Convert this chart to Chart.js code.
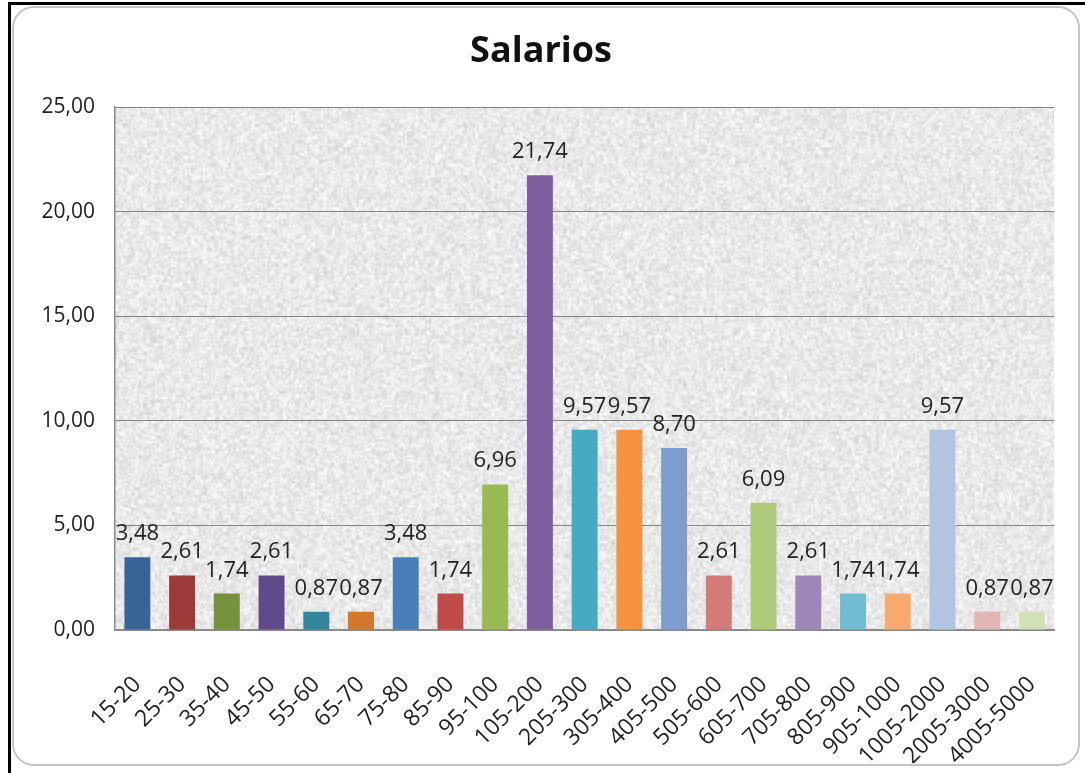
<!DOCTYPE html>
<html>
<head>
<meta charset="utf-8">
<script src="https://cdn.jsdelivr.net/npm/chart.js@4.4.0/dist/chart.umd.min.js"></script>
<style>
  html, body { margin: 0; padding: 0; background: #fff; }
  #wrap { position: relative; width: 1085px; height: 773px; overflow: hidden; }
  #edgeTop { position: absolute; left: 8px; top: 2px; width: 1077px; height: 3px; background: #000; }
  #edgeLeft { position: absolute; left: 8px; top: 2px; width: 3px; height: 771px; background: #000; }
  #frame { position: absolute; left: 12px; top: 6px; width: 1068px; height: 760px;
           border: 2px solid #c4c4c4; border-radius: 22px; box-sizing: border-box; }
  canvas { position: absolute; left: 0; top: 0; }
</style>
</head>
<body>
<div id="wrap">
  <div id="edgeTop"></div>
  <div id="edgeLeft"></div>
  <div id="frame"></div>
  <canvas id="salarios" width="1085" height="773"></canvas>
</div>
<script>
var categories = ['15-20', '25-30', '35-40', '45-50', '55-60', '65-70', '75-80', '85-90', '95-100', '105-200',
    '205-300', '305-400', '405-500', '505-600', '605-700', '705-800', '805-900', '905-1000', '1005-2000',
    '2005-3000', '4005-5000'];
var percentages = [3.48, 2.61, 1.74, 2.61, 0.87, 0.87, 3.48, 1.74, 6.96, 21.74,
    9.57, 9.57, 8.70, 2.61, 6.09, 2.61, 1.74, 1.74, 9.57, 0.87, 0.87];
var barColors = ['#386598', '#9b3a38', '#76923c', '#5f4a8b', '#31869b', '#d2782c', '#4a7ebb', '#be4b48',
    '#98b954', '#7d5fa0', '#46aac5', '#f69240', '#7f9ccf', '#d27b79', '#afca7b', '#9d87b9', '#72bcd1',
    '#f9ab6f', '#b3c4e0', '#e3b5b4', '#d2e0b7'];
var yTicks = [0, 5, 10, 15, 20, 25];

function comma(v) {
    return Number(v).toFixed(2).replace('.', ',');
}

// granite-like fill for the plot area (deterministic hash, only a texture)
function granite(w, h) {
    var c = document.createElement('canvas');
    c.width = w; c.height = h;
    var g = c.getContext('2d');
    var img = g.createImageData(w, h);
    function hash(x, y) {
        var s = Math.sin(x * 12.9898 + y * 78.233) * 43758.5453;
        return s - Math.floor(s);
    }
    for (var y = 0; y < h; y++) {
        for (var x = 0; x < w; x++) {
            var n = 0.6 * hash(x >> 1, y >> 1) + 0.4 * hash(x >> 2, (y >> 2) + 500);
            var v = Math.round(212 + 42 * n);
            var k = (y * w + x) * 4;
            img.data[k] = v; img.data[k + 1] = v; img.data[k + 2] = v; img.data[k + 3] = 255;
        }
    }
    g.putImageData(img, 0, 0);
    return c;
}

var plotBackground = {
    id: 'plotBackground',
    beforeDraw: function (chart) {
        var a = chart.chartArea;
        var w = Math.round(a.right - a.left), h = Math.round(a.bottom - a.top);
        if (!chart.$granite) chart.$granite = granite(w, h);
        chart.ctx.drawImage(chart.$granite, a.left, a.top, w, h);
    }
};

var valueLabels = {
    id: 'valueLabels',
    afterDatasetsDraw: function (chart) {
        var ctx = chart.ctx;
        var meta = chart.getDatasetMeta(0);
        ctx.save();
        ctx.font = '22px "Open Sans"';
        ctx.fillStyle = '#222222';
        ctx.textAlign = 'center';
        ctx.textBaseline = 'alphabetic';
        meta.data.forEach(function (bar, i) {
            ctx.fillText(comma(percentages[i]), bar.x, bar.y - 17);
        });
        ctx.restore();
    }
};

var salaryChart = new Chart(document.getElementById('salarios'), {
    type: 'bar',
    data: {
        labels: categories,
        datasets: [{
            label: 'Salarios',
            data: percentages,
            backgroundColor: barColors,
            borderWidth: 0,
            barPercentage: 0.58,
            categoryPercentage: 1.0
        }]
    },
    options: {
        responsive: false,
        animation: false,
        layout: {
            padding: { left: 20, right: 23, top: 8, bottom: 10 }
        },
        scales: {
            x: {
                grid: { display: false },
                border: { display: true, color: '#8c8c8c', width: 1.5 },
                ticks: {
                    color: '#222222',
                    font: { size: 23, family: 'Open Sans' },
                    minRotation: 45,
                    maxRotation: 45,
                    padding: 33,
                    autoSkip: false
                },
                afterFit: function (scale) { scale.height = 133; }
            },
            y: {
                min: 0,
                max: 25,
                afterBuildTicks: function (scale) {
                    scale.ticks = yTicks.map(function (v) { return { value: v }; });
                },
                grid: { color: '#858585', lineWidth: 1, drawTicks: false },
                border: { display: true, color: '#8c8c8c', width: 1.5 },
                ticks: {
                    color: '#222222',
                    font: { size: 21, family: 'Open Sans' },
                    padding: 20,
                    callback: function (v) { return comma(v); }
                },
                afterFit: function (scale) { scale.width = 95; }
            }
        },
        plugins: {
            legend: { display: false },
            tooltip: { enabled: false },
            title: {
                display: true,
                text: 'Salarios',
                color: '#111111',
                font: { size: 36, weight: 'bold', family: 'Open Sans' },
                padding: { top: 22, bottom: 34 }
            }
        }
    },
    plugins: [plotBackground, valueLabels]
});
</script>
</body>
</html>
